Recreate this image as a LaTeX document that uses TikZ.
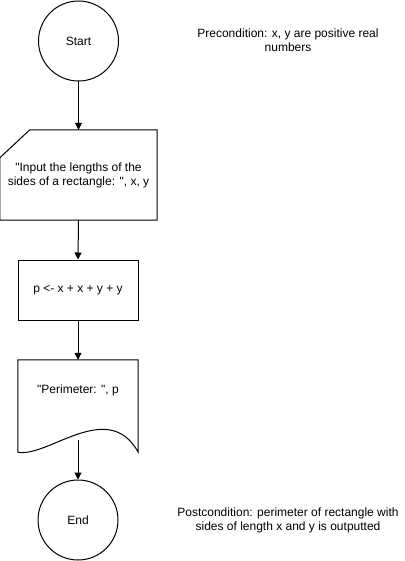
\documentclass[tikz,border=0pt]{standalone}
\usepackage{fontspec}
\setmainfont{Liberation Sans}[Ligatures=TeXOff]
\usetikzlibrary{arrows.meta}
\begin{document}
\begin{tikzpicture}[x=1pt,y=-1pt,
  every node/.style={font=\fontsize{12}{14}\selectfont, inner sep=0pt, align=center},
  shapeline/.style={draw=black, line width=1pt},
  arr/.style={draw=black, line width=1pt, -{Triangle[length=7pt,width=7pt]}},
  circ/.style={circle, shapeline, minimum size=80pt},
  procbox/.style={rectangle, shapeline, minimum width=120pt, minimum height=60pt}]
\useasboundingbox (0,0) rectangle (404,561);
% Start
\node[circ] (start) at (78.5,41) {Start};
% Manual input
\node[minimum width=157pt, minimum height=90pt] (inp) at (78.5,175) {"Input the lengths of the\\sides of a rectangle: ", x, y};
\draw[shapeline] (inp.south west) -- (inp.south east) -- (inp.north east) -- ([xshift=30pt]inp.north west) -- ([yshift=-28pt]inp.north west) -- cycle;
% Process
\node[procbox] (proc) at (78,290) {p <- x + x + y + y};
% Document
\node[minimum width=120pt, minimum height=80pt] (doc) at (78,400) {};
\node at (78,390) {"Perimeter: ", p};
\draw[shapeline] (doc.north west) -- (doc.north east) -- ([yshift=-12pt]doc.south east)
  .. controls (108,398) and (48,458) .. ([yshift=-12pt]doc.south west) -- cycle;
% End
\node[circ] (end) at (78,520) {End};
% Notes
\node (pre) at (288,40) {Precondition: x, y are positive real\\numbers};
\node (post) at (288,520.5) {Postcondition: perimeter of rectangle with\\sides of length x and y is outputted};
% Connectors
\draw[arr] (start.south) -- (inp.north);
\draw[arr] (inp.south) -- (proc.north);
\draw[arr] (proc.south) -- (doc.north);
\draw[arr] (doc.south) -- (end.north);
\end{tikzpicture}
\end{document}
